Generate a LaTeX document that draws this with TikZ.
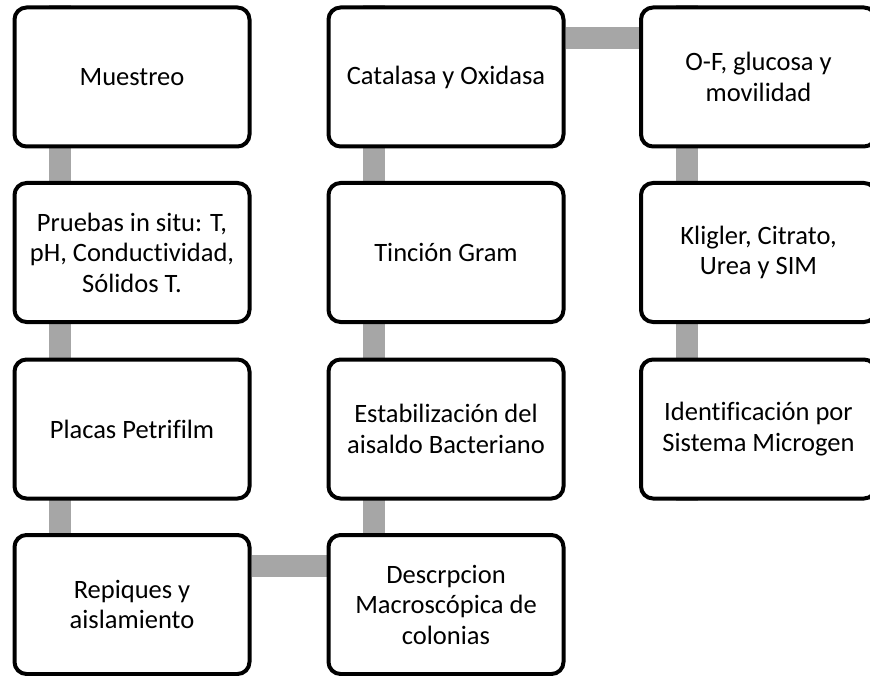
\documentclass[tikz,border=0pt]{standalone}
\usepackage{fontspec}
\setmainfont{Carlito}[Ligatures=CommonOff]
\usetikzlibrary{backgrounds}
\definecolor{conngray}{HTML}{A6A6A6}
\begin{document}
\begin{tikzpicture}[x=1pt,y=-1pt,
  stepbox/.style={draw=black, line width=4pt, rounded corners=12pt, fill=white,
    minimum width=235pt, minimum height=139pt, align=center, inner sep=0pt,
    font=\fontsize{26.5}{30.5}\selectfont},
  conn/.style={draw=conngray, line width=22pt}]
\useasboundingbox (0,0) rectangle (870,676);
\clip (0,0) rectangle (870,676);
\node[stepbox] (a1) at (132,77) {Muestreo};
\node[stepbox] (a2) at (132,252.5) {Pruebas in situ: T,\\pH, Conductividad,\\Sólidos T.};
\node[stepbox] (a3) at (132,429) {Placas Petrifilm};
\node[stepbox] (a4) at (132,604.5) {Repiques y\\aislamiento};
\node[stepbox] (b4) at (446,604.5) {Descrpcion\\Macroscópica de\\colonias};
\node[stepbox] (b3) at (446,429) {Estabilización del\\aisaldo Bacteriano};
\node[stepbox] (b2) at (446,252.5) {Tinción Gram};
\node[stepbox] (b1) at (446,77) {Catalasa y Oxidasa};
\node[stepbox] (c1) at (758.5,77) {O-F, glucosa y\\movilidad};
\node[stepbox] (c2) at (758.5,252.5) {Kligler, Citrato,\\Urea y SIM};
\node[stepbox] (c3) at (758.5,429) {Identificación por\\Sistema Microgen};
\begin{scope}[on background layer]
  \foreach \u/\v in {a1/a2,a2/a3,a3/a4,b4/b3,b3/b2,b2/b1,c1/c2,c2/c3}{
    \draw[conn] ([xshift=47.5pt]\u.south west) -- ([xshift=47.5pt]\v.north west);
    \draw[conn] ([xshift=47.5pt]\u.north west) -- ([xshift=47.5pt]\v.south west);
  }
  \draw[conn] ([yshift=-33pt]a4.north east) -- ([yshift=-33pt]b4.north west);
  \draw[conn] ([yshift=-33pt]b1.north east) -- ([yshift=-33pt]c1.north west);
\end{scope}
\end{tikzpicture}
\end{document}
